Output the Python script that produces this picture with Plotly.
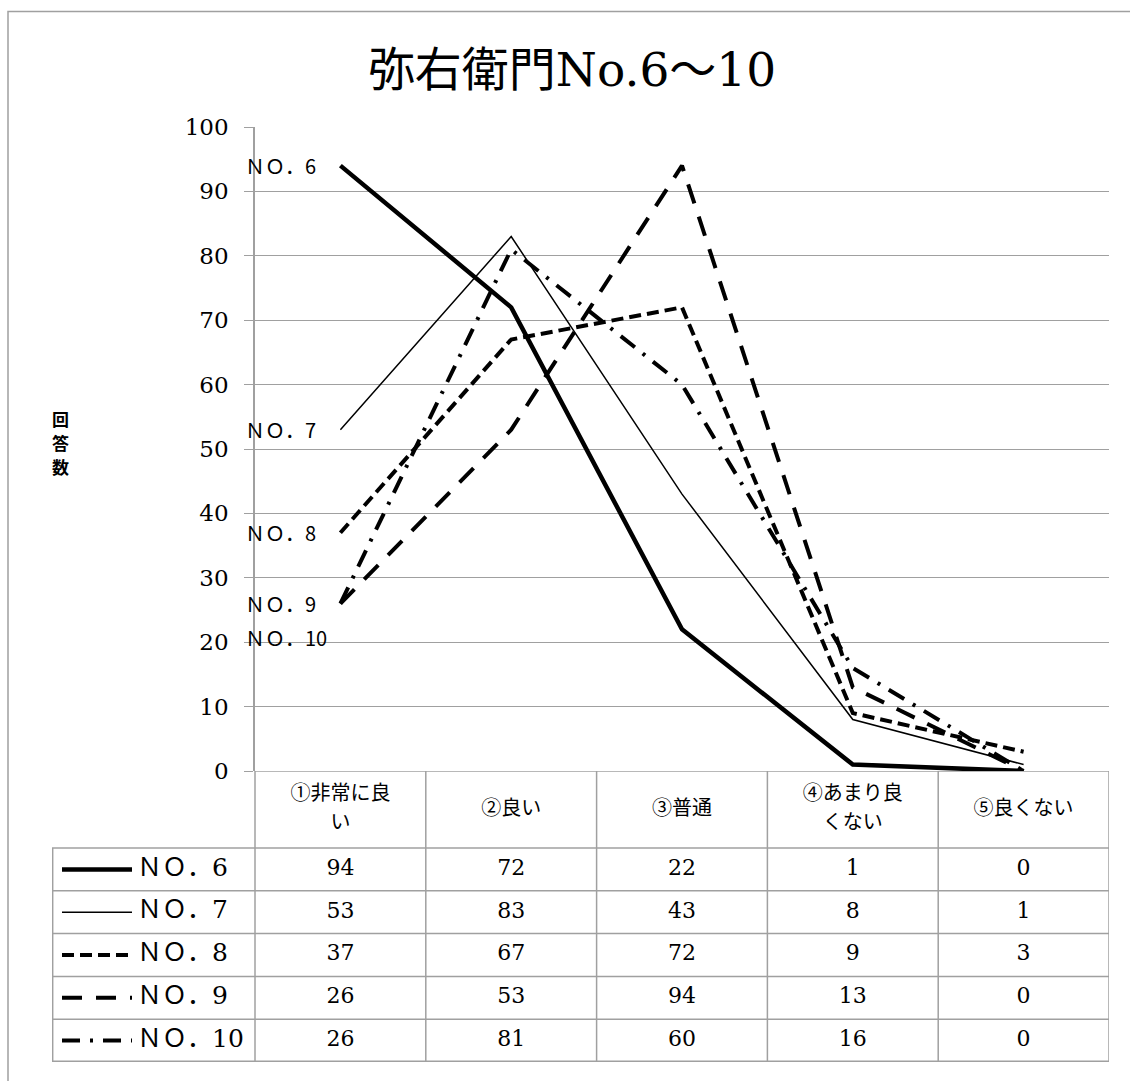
import plotly.graph_objects as go

# ---------------- data ----------------
categories = ["①非常に良<br>い", "②良い", "③普通", "④あまり良<br>くない", "⑤良くない"]
series_names = ["ＮＯ．6", "ＮＯ．7", "ＮＯ．8", "ＮＯ．9", "ＮＯ．10"]
no6 = [94, 72, 22, 1, 0]
no7 = [53, 83, 43, 8, 1]
no8 = [37, 67, 72, 9, 3]
no9 = [26, 53, 94, 13, 0]
no10 = [26, 81, 60, 16, 0]
series_values = [no6, no7, no8, no9, no10]
y_ticks = list(range(0, 101, 10))
title_text = "弥右衛門No.6～10"
y_title_chars = ["回", "答", "数"]

# ---------------- styles ----------------
line_widths = [4.5, 1.5, 4, 4, 4]
line_dashes = ["solid", "solid", "12px,6px", "20px,14px", "18px,10px,3px,10px"]
label_yshift = [0, 0, 0, 0, -34]
GRID = "#a0a0a0"
SERIF = "DejaVu Serif, Noto Sans CJK JP"
SANS = "Noto Sans CJK JP"

W, H = 1130, 1081
ML, MR, MT, MB = 52, 21, 127, 6
PW, PH = W - ML - MR, H - MT - MB
AXIS_PX = 255
X_DOM0 = (AXIS_PX - ML) / PW
COL_PX = (W - MR - AXIS_PX) / len(categories)
X2_MIN = -0.5 - (AXIS_PX - ML) / COL_PX
TABLE_PX = 295
Y_DOM0 = TABLE_PX / PH
ROW_PX = 43.4
HDR = 78 / ROW_PX          # header height in row units
TOTAL = HDR + len(series_names)
LINE_GAP = 14.5 / ROW_PX   # half spacing between wrapped header lines


def px2x(px):
    return (px - AXIS_PX) / COL_PX - 0.5


fig = go.Figure()
xs = list(range(len(categories)))

# chart lines
for name, vals, w, d in zip(series_names, series_values, line_widths, line_dashes):
    fig.add_trace(go.Scatter(x=xs, y=vals, mode="lines", name=name,
                             line=dict(color="black", width=w, dash=d),
                             xaxis="x", yaxis="y", showlegend=False,
                             hoverinfo="skip"))

# series labels near the first point
for name, vals, ys in zip(series_names, series_values, label_yshift):
    fig.add_annotation(x=xs[0], y=vals[0], xref="x", yref="y", text=name,
                       showarrow=False, xanchor="left", yanchor="middle",
                       xshift=-97, yshift=ys,
                       font=dict(family=SANS, size=20, color="black"))

# ---------------- data table ----------------
row_centers = [HDR + i + 0.5 for i in range(len(series_names))]
sx0, sx1, tx = px2x(62), px2x(132), px2x(137)
for i, (name, w, d) in enumerate(zip(series_names, line_widths, line_dashes)):
    fig.add_trace(go.Scatter(x=[sx0, sx1], y=[row_centers[i]] * 2, mode="lines",
                             line=dict(color="black", width=w, dash=d),
                             xaxis="x2", yaxis="y2", showlegend=False,
                             hoverinfo="skip"))
fig.add_trace(go.Scatter(x=[tx] * len(series_names), y=row_centers, mode="text",
                         text=series_names, textposition="middle right",
                         textfont=dict(family=SERIF, size=25, color="black"),
                         xaxis="x2", yaxis="y2", showlegend=False, hoverinfo="skip"))
# header (wrapped categories split into separate lines)
hx, hy, ht = [], [], []
for j, cat in enumerate(categories):
    parts = cat.split("<br>")
    n = len(parts)
    for k, p in enumerate(parts):
        hx.append(j)
        hy.append(HDR / 2 + (k - (n - 1) / 2) * 2 * LINE_GAP)
        ht.append(p)
fig.add_trace(go.Scatter(x=hx, y=hy, mode="text", text=ht,
                         textposition="middle center",
                         textfont=dict(family=SANS, size=20, color="black"),
                         xaxis="x2", yaxis="y2", showlegend=False, hoverinfo="skip"))
# values
cx, cy, ct = [], [], []
for i, vals in enumerate(series_values):
    for j, v in enumerate(vals):
        cx.append(j)
        cy.append(row_centers[i])
        ct.append(str(v))
fig.add_trace(go.Scatter(x=cx, y=cy, mode="text", text=ct,
                         textposition="middle center",
                         textfont=dict(family=SERIF, size=22, color="black"),
                         xaxis="x2", yaxis="y2", showlegend=False, hoverinfo="skip"))

shapes = []
for k in range(len(categories) + 1):
    shapes.append(dict(type="line", xref="x2", yref="y2", x0=k - 0.5, x1=k - 0.5,
                       y0=0, y1=TOTAL, line=dict(color=GRID, width=1.5)))
shapes.append(dict(type="line", xref="x2", yref="y2", x0=X2_MIN + 0.004, x1=X2_MIN + 0.004,
                   y0=HDR, y1=TOTAL, line=dict(color=GRID, width=1.5)))
shapes.append(dict(type="line", xref="x2", yref="y2", x0=-0.5, x1=len(categories) - 0.5,
                   y0=0, y1=0, line=dict(color=GRID, width=1.5)))
for i in range(len(series_names) + 1):
    y = HDR + i
    if i == len(series_names):
        y = TOTAL - 0.015
    shapes.append(dict(type="line", xref="x2", yref="y2", x0=X2_MIN, x1=len(categories) - 0.5,
                       y0=y, y1=y, line=dict(color=GRID, width=1.5)))
# outer chart frame
shapes.append(dict(type="rect", xref="paper", yref="paper",
                   x0=(8 - ML) / PW, x1=1.1, y0=-0.1, y1=(H - MB - 10) / PH,
                   line=dict(color=GRID, width=1.5), layer="below"))

fig.update_layout(
    width=W, height=H,
    margin=dict(l=ML, r=MR, t=MT, b=MB),
    paper_bgcolor="white", plot_bgcolor="white",
    showlegend=False,
    title=dict(text=title_text, x=572 / W, xref="container", xanchor="center",
               y=1 - 70 / H, yref="container", yanchor="middle",
               font=dict(family=SERIF, size=47, color="black")),
    xaxis=dict(domain=[X_DOM0, 1], range=[-0.5, len(categories) - 0.5],
               visible=False, anchor="y"),
    yaxis=dict(domain=[Y_DOM0, 1], range=[0, 100], tickvals=y_ticks,
               showgrid=True, gridcolor=GRID, gridwidth=1.2,
               showline=True, linecolor=GRID, linewidth=1.5,
               ticks="outside", ticklen=9, tickcolor=GRID, tickwidth=1.2,
               ticklabelstandoff=11,
               zeroline=False, anchor="x",
               tickfont=dict(family=SERIF, size=23, color="black")),
    xaxis2=dict(domain=[0, 1], range=[X2_MIN, len(categories) - 0.5],
                visible=False, anchor="y2"),
    yaxis2=dict(domain=[0, Y_DOM0], range=[TOTAL, 0], visible=False, anchor="x2"),
    shapes=shapes,
)

for k, ch in enumerate(y_title_chars):
    fig.add_annotation(x=(60 - ML) / PW, y=(H - MB - (423 + 24 * k)) / PH,
                       xref="paper", yref="paper",
                       text="<b>" + ch + "</b>", showarrow=False,
                       xanchor="center", yanchor="middle", borderpad=0,
                       font=dict(family=SANS, size=17, color="black"))

fig.write_html("out.html", config={"displayModeBar": False},
               post_script="document.body.style.margin='0';"
                           "document.body.style.overflow='hidden';")
